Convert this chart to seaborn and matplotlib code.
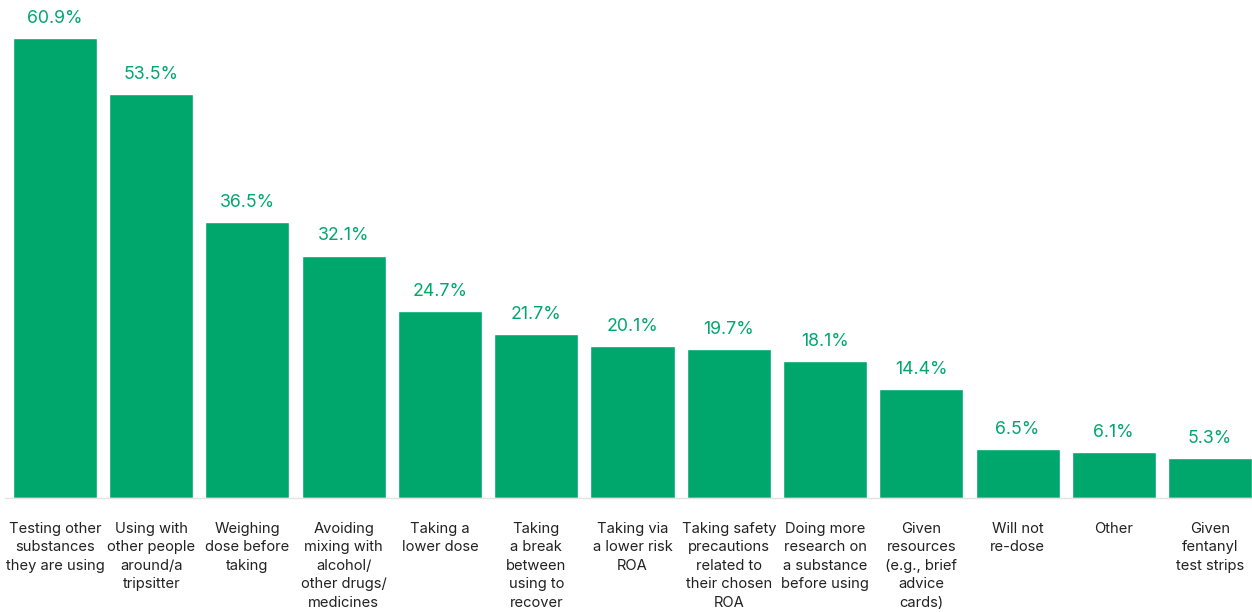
import matplotlib
matplotlib.use("Agg")
import matplotlib.pyplot as plt
import seaborn as sns
import pandas as pd

categories = [
    "Testing other\nsubstances\nthey are using",
    "Using with\nother people\naround/a\ntripsitter",
    "Weighing\ndose before\ntaking",
    "Avoiding\nmixing with\nalcohol/\nother drugs/\nmedicines",
    "Taking a\nlower dose",
    "Taking\na break\nbetween\nusing to\nrecover",
    "Taking via\na lower risk\nROA",
    "Taking safety\nprecautions\nrelated to\ntheir chosen\nROA",
    "Doing more\nresearch on\na substance\nbefore using",
    "Given\nresources\n(e.g., brief\nadvice\ncards)",
    "Will not\nre-dose",
    "Other",
    "Given\nfentanyl\ntest strips",
]
percentages = [60.9, 53.5, 36.5, 32.1, 24.7, 21.7, 20.1, 19.7, 18.1, 14.4, 6.5, 6.1, 5.3]

GREEN = "#00A76D"
TEXT = "#222222"

sns.set_theme(style="white")
plt.rcParams["font.family"] = ["Inter", "DejaVu Sans"]

df = pd.DataFrame({"category": categories, "pct": percentages})

W, H = 1252, 612
fig = plt.figure(figsize=(W / 100, H / 100), dpi=100)
ax = fig.add_axes([5 / W, 114 / H, (W - 5) / W, 498 / H])

sns.barplot(data=df, x="category", y="pct", color=GREEN, saturation=1,
            width=0.873, ax=ax)

ax.set_xlim(-0.519, 12.436)
ax.set_ylim(0, 65.93)

ax.bar_label(ax.containers[0], labels=[f"{v:.1f}%" for v in percentages],
             padding=8, color=GREEN, fontsize=12.8)

ax.set_xlabel("")
ax.set_ylabel("")
ax.set_yticks([])
ax.tick_params(axis="x", length=0, pad=17)
for lbl in ax.get_xticklabels():
    lbl.set_fontsize(10.6)
    lbl.set_color(TEXT)
    lbl.set_linespacing(1.42)
    lbl.set_verticalalignment("top")

for side in ["top", "left", "right"]:
    ax.spines[side].set_visible(False)
ax.spines["bottom"].set_color("#E2E2E2")
ax.spines["bottom"].set_linewidth(1)

fig.savefig("out.png", dpi=100, facecolor="white")
